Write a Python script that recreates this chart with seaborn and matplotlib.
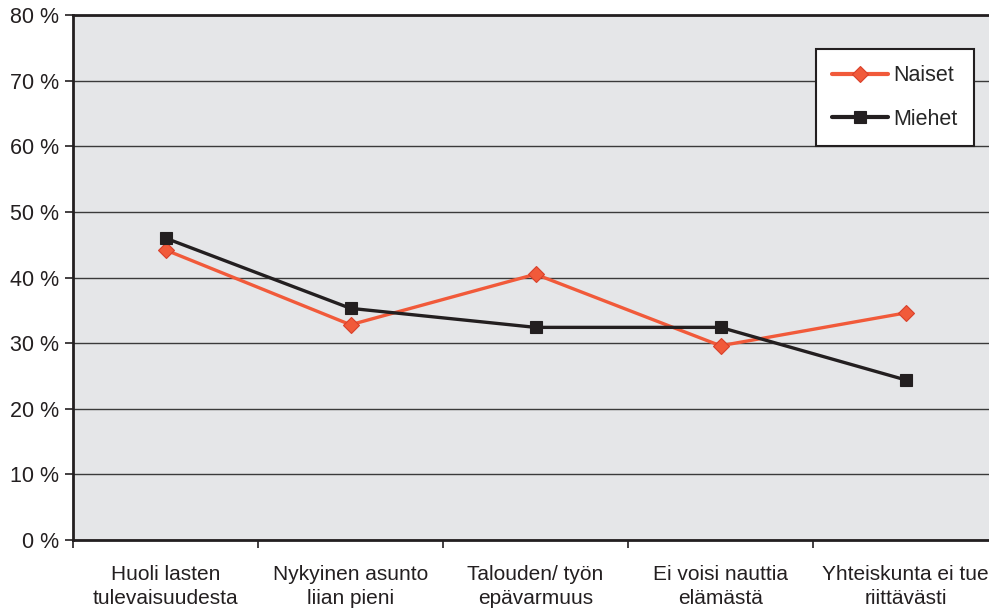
import pandas as pd
import matplotlib.pyplot as plt
import seaborn as sns
import numpy as np

categories = ['Huoli lasten\ntulevaisuudesta', 'Nykyinen asunto\nliian pieni', 'Talouden/ työn\nepävarmuus',
              'Ei voisi nauttia\nelämästä', 'Yhteiskunta ei tue\nriittävästi']
naiset = [44.2, 32.8, 40.5, 29.6, 34.6]
miehet = [46.0, 35.3, 32.4, 32.4, 24.4]

df = pd.DataFrame({
    'x': list(range(len(categories))) * 2,
    'value': naiset + miehet,
    'group': ['Naiset'] * len(naiset) + ['Miehet'] * len(miehet),
})

sns.set_style('white')
plt.rcParams['font.family'] = ['Liberation Sans', 'DejaVu Sans']

fig = plt.figure(figsize=(9.89, 6.12), dpi=100)
ax = fig.add_axes([73 / 989, 1 - 540 / 612, 925 / 989, 525 / 612])
ax.set_facecolor('#e5e6e8')

sns.lineplot(data=df, x='x', y='value', hue='group', style='group',
             palette={'Naiset': '#f15a3a', 'Miehet': '#231f20'},
             markers={'Naiset': 'D', 'Miehet': 's'}, dashes=False,
             markersize=8.5, linewidth=2.4, markeredgewidth=0.8, ax=ax)
for line in ax.lines:
    if line.get_color() == '#f15a3a':
        line.set_markeredgecolor('#d9402a')
    else:
        line.set_markeredgecolor('#231f20')

ax.set_xlim(-0.5, 4.5)
ax.set_ylim(0, 80)
yt = np.arange(0, 81, 10)
ax.set_yticks(yt)
ax.set_yticklabels([f'{v} %' for v in yt], fontsize=15.5, color='#231f20')
ax.yaxis.grid(True, color='#3a3a3a', linewidth=1)
ax.set_axisbelow(True)

ax.set_xticks(range(len(categories)))
ax.set_xticklabels(categories, fontsize=15, color='#231f20', linespacing=1.3)
ax.set_xticks(np.arange(-0.5, 4.6, 1), minor=True)
ax.tick_params(axis='x', which='major', length=0, pad=18)
ax.tick_params(axis='x', which='minor', length=6, width=1.2, direction='out', color='#231f20', bottom=True)
ax.tick_params(axis='y', length=6, width=1.2, direction='out', color='#231f20', left=True, pad=4)

for s in ['left', 'bottom', 'top']:
    ax.spines[s].set_color('#231f20')
    ax.spines[s].set_linewidth(2)
ax.spines['right'].set_visible(False)

ax.set_xlabel('')
ax.set_ylabel('')

handles, labels = ax.get_legend_handles_labels()
order = [labels.index('Naiset'), labels.index('Miehet')]
leg = ax.legend([handles[i] for i in order], [labels[i] for i in order],
                loc='upper left', bbox_to_anchor=(816 / 989, 1 - 49 / 612), bbox_transform=fig.transFigure,
                borderaxespad=0, fontsize=15.5, frameon=True, fancybox=False, framealpha=1, edgecolor='#231f20',
                handlelength=2.6, labelspacing=1.05, borderpad=0.75, handletextpad=0.25)
leg.get_frame().set_linewidth(1.5)
for h in leg.legend_handles:
    h.set_linewidth(3)

plt.savefig('out.png', dpi=100)
